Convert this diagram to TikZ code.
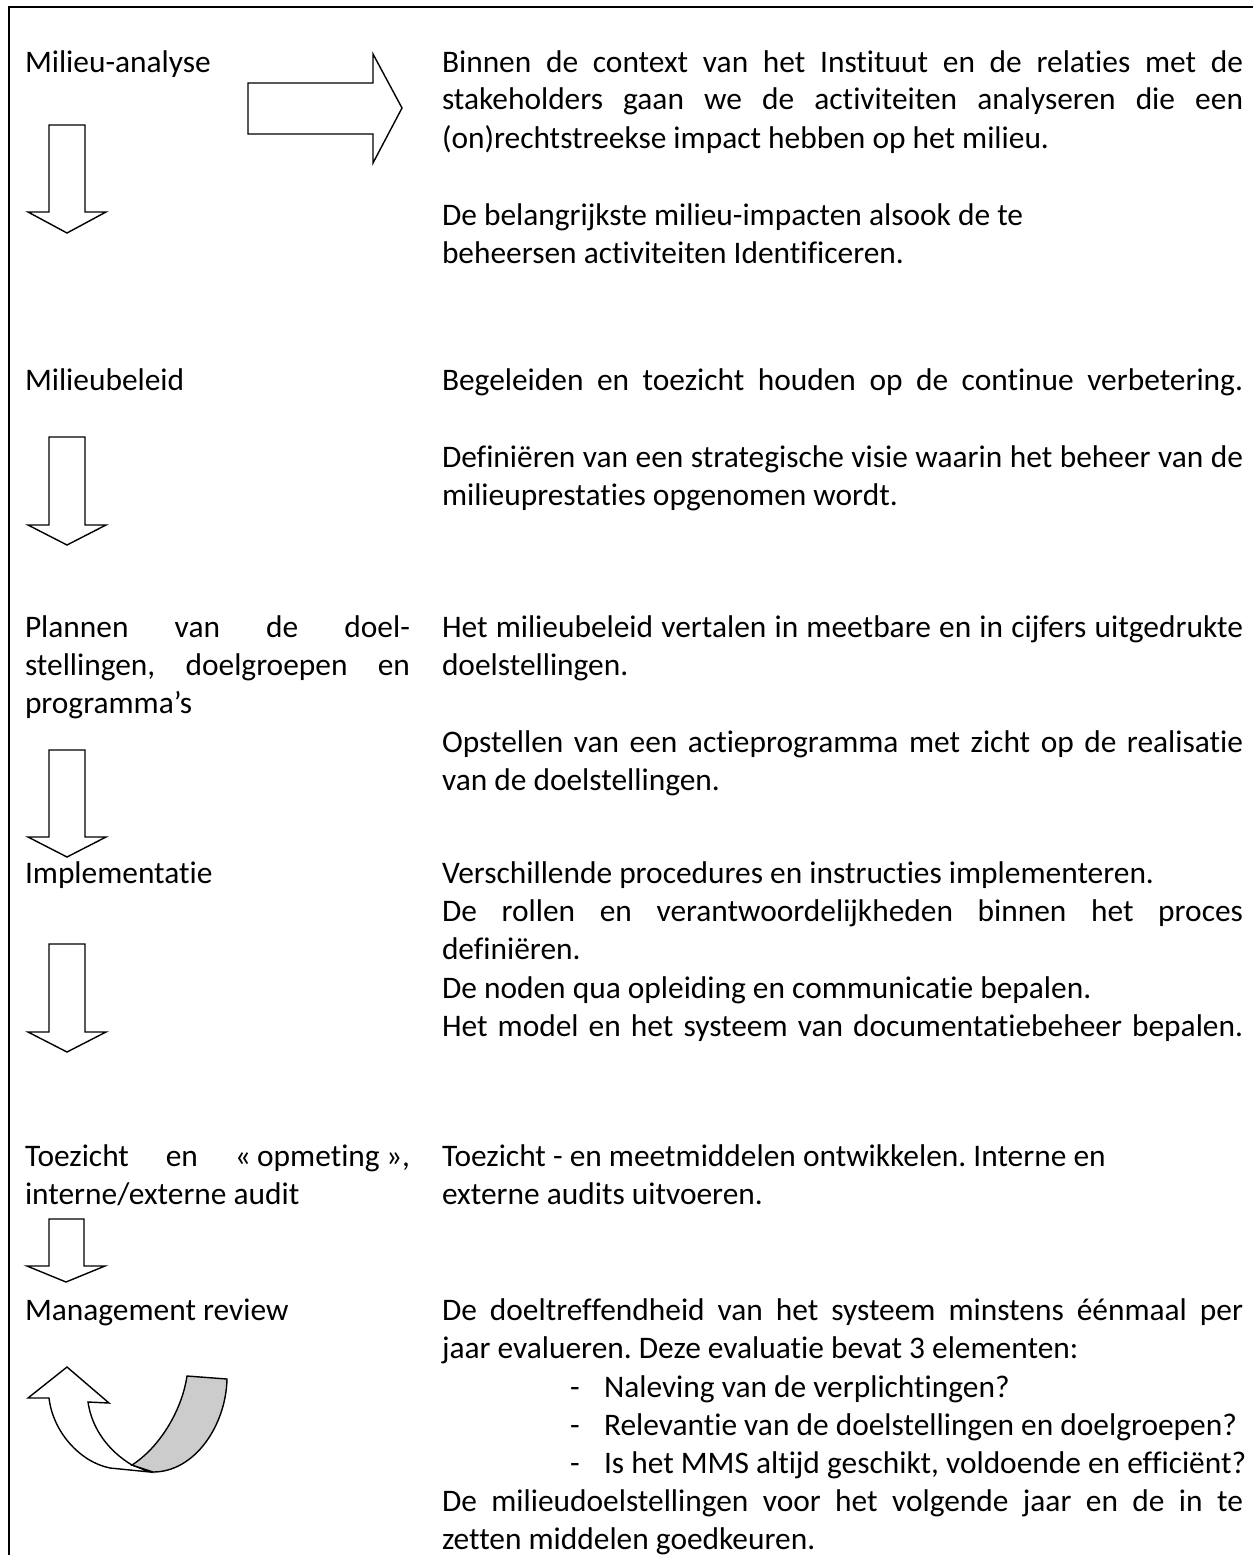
\documentclass[tikz,border=0pt]{standalone}
\usepackage{fontspec}
\setmainfont{Carlito}[Ligatures={NoCommon}]
\newcommand{\DownArr}[3]{\draw[blockarrow] (49,#1) -- (85,#1) -- (85,#2) -- (106,#2) -- (67,#3) -- (28,#2) -- (49,#2) -- cycle;}
\begin{document}
\frenchspacing
\begin{tikzpicture}[x=1pt,y=-1pt,
  txt/.style={anchor=base west, inner sep=0pt, outer sep=0pt, font=\fontsize{31.4}{38.3}\selectfont},
  blockarrow/.style={draw=black, line width=1.4pt, fill=white, line join=miter},
  frameline/.style={draw=black, line width=2.4pt}]
\useasboundingbox (0,0) rectangle (1253,1555);
\def\WL{385pt}
\def\WR{801pt}
% frame
\draw[frameline] (9,1555) -- (9,7) -- (1253,7);
% arrows
\draw[blockarrow] (248,83) -- (373,83) -- (373,54) -- (402,108) -- (373,163) -- (373,134) -- (248,134) -- cycle;
\DownArr{125}{212}{233}
\DownArr{437}{525}{545}
\DownArr{750}{837}{857}
\DownArr{944}{1032}{1052}
\draw[blockarrow] (49,1219) -- (84,1219) -- (84,1266) -- (105,1266) -- (66,1282) -- (27,1266) -- (49,1266) -- cycle;
% curved arrow
\draw[blockarrow] (49,1398) .. controls (53,1432) and (80,1462) .. (110,1468) -- (150,1472) -- (132,1465) .. controls (110,1452) and (92,1430) .. (88,1402) -- (109,1403) -- (67,1367) -- (28,1398) -- cycle;
\draw[blockarrow, fill=black!20] (132,1465) .. controls (160,1447) and (182,1410) .. (187,1376) -- (227,1379) .. controls (226,1425) and (195,1472) .. (153,1472) -- cycle;
% left column
\node[txt] (l1) at (25,72) {Milieu-analyse};
\node[txt] (l2) at (25,390) {Milieubeleid};
\node[txt] (l3a) at (25,637) {\makebox[\WL][s]{Plannen van de doel-}};
\node[txt] (l3b) at (25,675) {\makebox[\WL][s]{stellingen, doelgroepen en}};
\node[txt] (l3c) at (25,713) {programma’s};
\node[txt] (l4) at (25,883) {Implementatie};
\node[txt] (l5a) at (25,1166) {\makebox[\WL][s]{Toezicht en «\kern.2em opmeting\kern.2em»,}};
\node[txt] (l5b) at (25,1204) {interne/externe audit};
\node[txt] (l6) at (25,1320) {Management review};
% right column
\node[txt] (r1a) at (442,72) {\makebox[\WR][s]{Binnen de context van het Instituut en de relaties met de}};
\node[txt] (r1b) at (442,110) {\makebox[\WR][s]{stakeholders gaan we de activiteiten analyseren die een}};
\node[txt] (r1c) at (442,148) {(on)rechtstreekse impact hebben op het milieu.};
\node[txt] (r1d) at (442,225) {De belangrijkste milieu-impacten alsook de te};
\node[txt] (r1e) at (442,263) {beheersen activiteiten Identificeren.};
\node[txt] (r2a) at (442,390) {\makebox[\WR][s]{Begeleiden en toezicht houden op de continue verbetering.}};
\node[txt] (r2b) at (442,467) {\makebox[\WR][s]{Definiëren van een strategische visie waarin het beheer van de}};
\node[txt] (r2c) at (442,505) {milieuprestaties opgenomen wordt.};
\node[txt] (r3a) at (442,637) {\makebox[\WR][s]{Het milieubeleid vertalen in meetbare en in cijfers uitgedrukte}};
\node[txt] (r3b) at (442,675) {doelstellingen.};
\node[txt] (r3c) at (442,752) {\makebox[\WR][s]{Opstellen van een actieprogramma met zicht op de realisatie}};
\node[txt] (r3d) at (442,790) {van de doelstellingen.};
\node[txt] (r4a) at (442,883) {Verschillende procedures en instructies implementeren.};
\node[txt] (r4b) at (442,921) {\makebox[\WR][s]{De rollen en verantwoordelijkheden binnen het proces}};
\node[txt] (r4c) at (442,959) {definiëren.};
\node[txt] (r4d) at (442,998) {De noden qua opleiding en communicatie bepalen.};
\node[txt] (r4e) at (442,1036) {\makebox[\WR][s]{Het model en het systeem van documentatiebeheer bepalen.}};
\node[txt] (r5a) at (442,1166) {Toezicht - en meetmiddelen ontwikkelen. Interne en};
\node[txt] (r5b) at (442,1204) {externe audits uitvoeren.};
\node[txt] (r6a) at (442,1320) {\makebox[\WR][s]{De doeltreffendheid van het systeem minstens éénmaal per}};
\node[txt] (r6b) at (442,1358) {jaar evalueren. Deze evaluatie bevat 3 elementen:};
\node[txt] (d1) at (570,1397) {-};
\node[txt] (r6c) at (604,1397) {Naleving van de verplichtingen?};
\node[txt] (d2) at (570,1435) {-};
\node[txt] (r6d) at (604,1435) {Relevantie van de doelstellingen en doelgroepen?};
\node[txt] (d3) at (570,1473) {-};
\node[txt] (r6e) at (604,1473) {Is het MMS altijd geschikt, voldoende en efficiënt?};
\node[txt] (r6f) at (442,1511) {\makebox[\WR][s]{De milieudoelstellingen voor het volgende jaar en de in te}};
\node[txt] (r6g) at (442,1549) {zetten middelen goedkeuren.};
\end{tikzpicture}
\end{document}
